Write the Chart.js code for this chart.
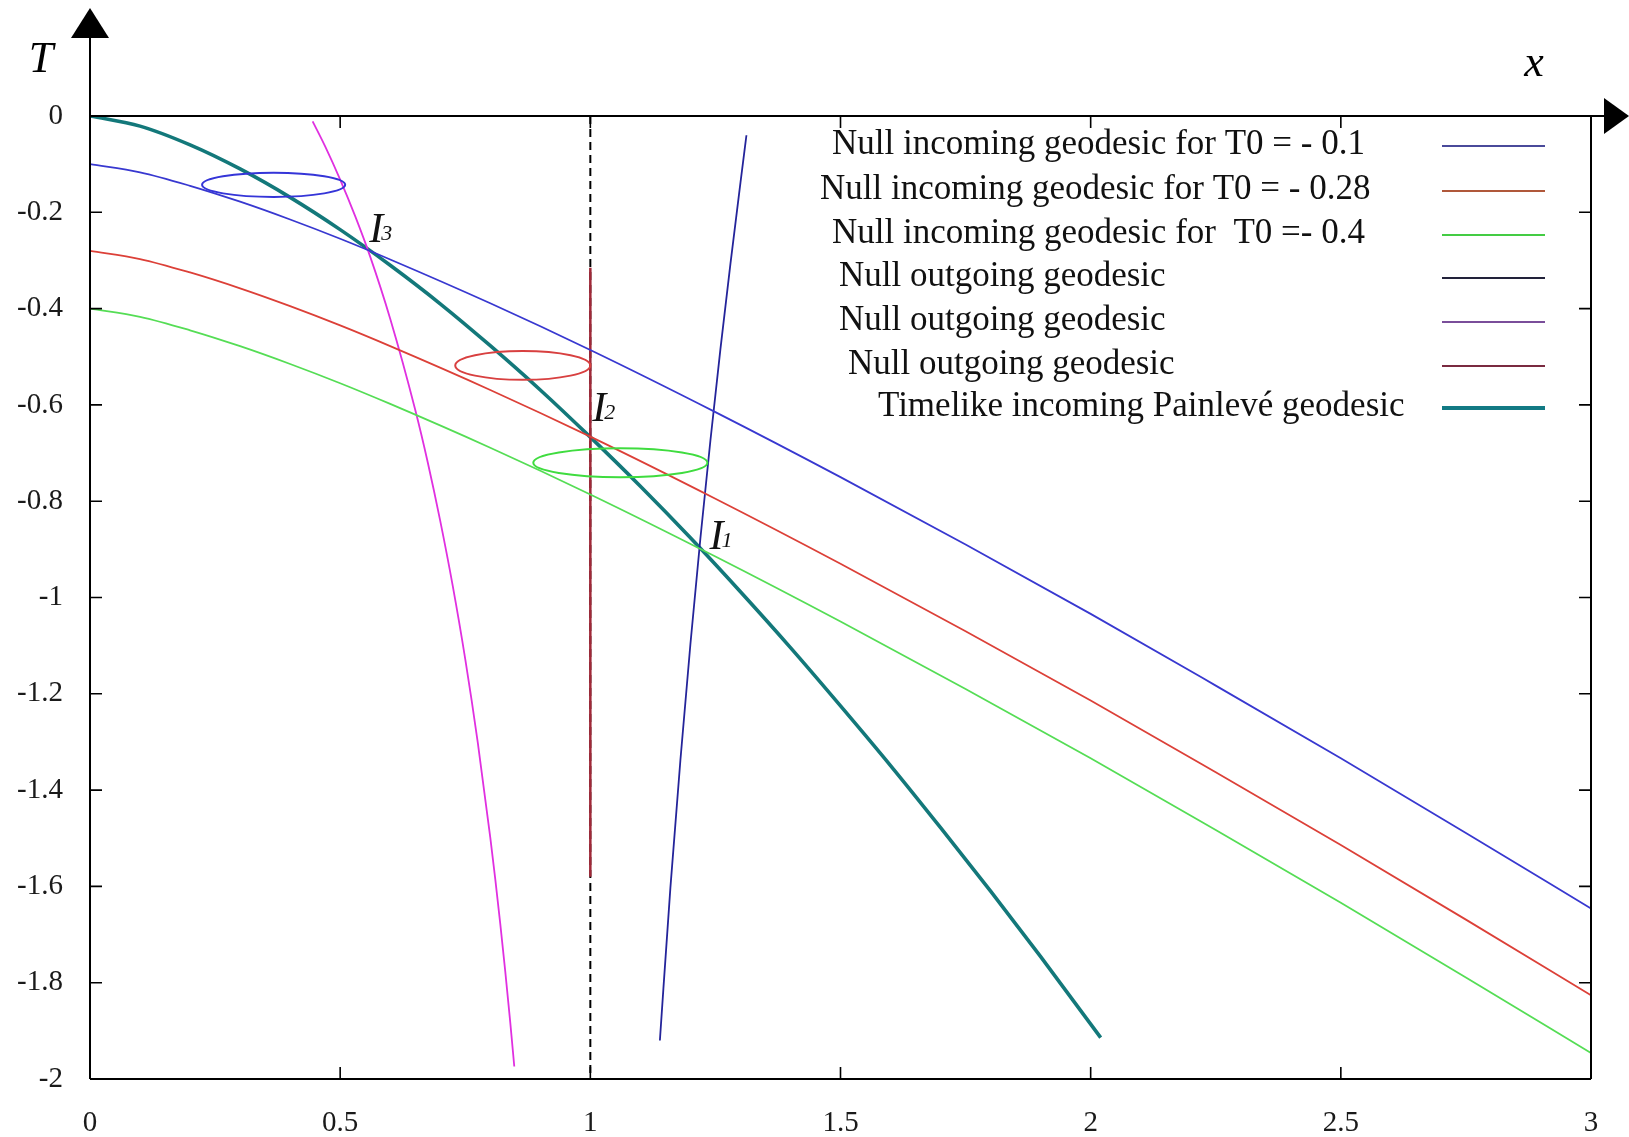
<!DOCTYPE html>
<html>
<head>
<meta charset="utf-8">
<script src="https://cdn.jsdelivr.net/npm/chart.js@4.4.1/dist/chart.umd.min.js"></script>
<style>
  html, body { margin: 0; padding: 0; background: #fff; }
  canvas { display: block; }
</style>
</head>
<body>
<canvas id="geodesics" width="1629" height="1137"></canvas>
<script>
// Painlevé coordinates: null / timelike geodesics near the horizon x = 1

const xTicks = [0, 0.5, 1, 1.5, 2, 2.5, 3];
const yTicks = [0, -0.2, -0.4, -0.6, -0.8, -1, -1.2, -1.4, -1.6, -1.8, -2];

// incoming null geodesics (same x grid for all three)
const incomingX = [0, 0.1, 0.2, 0.3, 0.4, 0.5, 0.6, 0.8, 1.0, 1.25, 1.5, 1.75, 2.0, 2.25, 2.5, 2.75, 3.0];
const incomingT01 = [-0.100, -0.117, -0.145, -0.178, -0.215, -0.255, -0.298, -0.389, -0.486, -0.615, -0.750, -0.890, -1.034, -1.183, -1.334, -1.489, -1.646];
const incomingT028 = [-0.280, -0.297, -0.325, -0.358, -0.395, -0.435, -0.478, -0.569, -0.666, -0.795, -0.930, -1.070, -1.214, -1.363, -1.514, -1.669, -1.826];
const incomingT04 = [-0.400, -0.417, -0.445, -0.478, -0.515, -0.555, -0.598, -0.689, -0.786, -0.915, -1.050, -1.190, -1.334, -1.483, -1.634, -1.789, -1.946];

// outgoing null geodesics
const outgoingOuterX = [1.139, 1.16, 1.18, 1.20, 1.22, 1.24, 1.26, 1.28, 1.30, 1.312];
const outgoingOuterT = [-1.92, -1.603, -1.338, -1.097, -0.877, -0.674, -0.484, -0.307, -0.139, -0.04];
const outgoingInnerX = [0.445, 0.47, 0.5, 0.53, 0.56, 0.6, 0.65, 0.675, 0.7, 0.725, 0.75, 0.775, 0.8, 0.81, 0.82, 0.83, 0.84, 0.848];
const outgoingInnerT = [-0.011, -0.063, -0.132, -0.208, -0.292, -0.421, -0.610, -0.719, -0.841, -0.976, -1.128, -1.301, -1.498, -1.585, -1.678, -1.777, -1.883, -1.974];
const horizonX = [1, 1];
const horizonT = [-0.315, -1.58];
const horizonDashT = [0, -2];

// timelike incoming Painlevé geodesic
const timelikeX = [0, 0.1, 0.2, 0.3, 0.4, 0.5, 0.6, 0.7, 0.8, 0.9, 1.0, 1.1, 1.2, 1.3, 1.4, 1.5, 1.6, 1.7, 1.8, 1.9, 2.0, 2.02];
const timelikeT = [0, -0.021, -0.060, -0.110, -0.169, -0.236, -0.310, -0.390, -0.477, -0.569, -0.667, -0.769, -0.876, -0.988, -1.104, -1.225, -1.349, -1.478, -1.610, -1.746, -1.886, -1.914];

// light cones
const coneX = [0.367, 0.865, 1.06];
const coneT = [-0.143, -0.518, -0.72];
const coneHalfWidth = [0.143, 0.135, 0.174];
const coneHalfHeight = [0.025, 0.03, 0.03];
const coneColors = ['#3535d8', '#d84040', '#3fdc3f'];

// intersection labels
const markNames = ['I', 'I', 'I'];
const markSubs = ['1', '2', '3'];
const markX = [1.238, 1.004, 0.558];
const markT = [-0.899, -0.633, -0.262];

const seriesLabels = [
  'Null incoming geodesic for T0 = - 0.1',
  'Null incoming geodesic for T0 = - 0.28',
  'Null incoming geodesic for  T0 =- 0.4',
  'Null outgoing geodesic',
  'Null outgoing geodesic',
  'Null outgoing geodesic',
  'Timelike incoming Painlevé geodesic',
];

const SERIF = "'Liberation Serif', 'DejaVu Serif', serif";

function pts(xs, ts) {
  return xs.map((x, i) => ({ x, y: ts[i] }));
}

const datasets = [
  { label: seriesLabels[0], data: pts(incomingX, incomingT01), borderColor: '#3838d0', borderWidth: 1.8, cubicInterpolationMode: 'monotone' },
  { label: seriesLabels[1], data: pts(incomingX, incomingT028), borderColor: '#dc4038', borderWidth: 1.8, cubicInterpolationMode: 'monotone' },
  { label: seriesLabels[2], data: pts(incomingX, incomingT04), borderColor: '#55dd55', borderWidth: 1.8, cubicInterpolationMode: 'monotone' },
  { label: seriesLabels[3], data: pts(outgoingOuterX, outgoingOuterT), borderColor: '#24249a', borderWidth: 1.8, cubicInterpolationMode: 'monotone' },
  { label: seriesLabels[4], data: pts(outgoingInnerX, outgoingInnerT), borderColor: '#e030e0', borderWidth: 1.8, cubicInterpolationMode: 'monotone' },
  { label: seriesLabels[5], data: pts(horizonX, horizonT), borderColor: '#a02838', borderWidth: 2.5 },
  { label: seriesLabels[6], data: pts(timelikeX, timelikeT), borderColor: '#13787a', borderWidth: 3.6, cubicInterpolationMode: 'monotone' },
  { label: '', data: pts(horizonX, horizonDashT), borderColor: '#000', borderWidth: 2, borderDash: [8, 5], noLegend: true },
];

const legendColors = ['#4a4a9a', '#b0583a', '#44cc44', '#22223a', '#7a4e9a', '#7a2a40', '#127a84'];
const legendTextX = [832, 820, 832, 839, 839, 848, 878];

const framePlugin = {
  id: 'frame',
  afterDraw(chart) {
    const { ctx, chartArea: a, scales } = chart;
    ctx.save();
    ctx.strokeStyle = '#000';
    ctx.fillStyle = '#000';
    ctx.lineWidth = 2;
    // box + axis extensions
    ctx.beginPath();
    ctx.moveTo(a.left, a.bottom); ctx.lineTo(a.right, a.bottom);
    ctx.moveTo(a.right, a.bottom); ctx.lineTo(a.right, a.top);
    ctx.moveTo(a.left, a.bottom); ctx.lineTo(a.left, a.top - 80);
    ctx.moveTo(a.left, a.top); ctx.lineTo(a.right + 14, a.top);
    ctx.stroke();
    // arrows
    ctx.beginPath();
    ctx.moveTo(a.left, a.top - 108);
    ctx.lineTo(a.left - 19, a.top - 78);
    ctx.lineTo(a.left + 19, a.top - 78);
    ctx.closePath(); ctx.fill();
    ctx.beginPath();
    ctx.moveTo(a.right + 38, a.top);
    ctx.lineTo(a.right + 13, a.top - 18);
    ctx.lineTo(a.right + 13, a.top + 18);
    ctx.closePath(); ctx.fill();
    // inward ticks
    ctx.lineWidth = 1.6;
    ctx.beginPath();
    xTicks.forEach(v => {
      const px = scales.x.getPixelForValue(v);
      ctx.moveTo(px, a.bottom); ctx.lineTo(px, a.bottom - 12);
      ctx.moveTo(px, a.top); ctx.lineTo(px, a.top + 12);
    });
    yTicks.forEach(v => {
      const py = scales.y.getPixelForValue(v);
      ctx.moveTo(a.left, py); ctx.lineTo(a.left + 12, py);
      ctx.moveTo(a.right, py); ctx.lineTo(a.right - 12, py);
    });
    ctx.stroke();
    // axis names
    ctx.font = 'italic 44px ' + SERIF;
    ctx.textAlign = 'center';
    ctx.textBaseline = 'alphabetic';
    ctx.fillText('T', 41, 72);
    ctx.fillText('x', 1534, 76);
    ctx.restore();
  }
};

const conePlugin = {
  id: 'cones',
  afterDatasetsDraw(chart) {
    const { ctx, scales } = chart;
    ctx.save();
    ctx.lineWidth = 2;
    coneX.forEach((cx, i) => {
      const px = scales.x.getPixelForValue(cx);
      const py = scales.y.getPixelForValue(coneT[i]);
      const rx = scales.x.getPixelForValue(cx + coneHalfWidth[i]) - px;
      const ry = scales.y.getPixelForValue(coneT[i] - coneHalfHeight[i]) - py;
      ctx.strokeStyle = coneColors[i];
      ctx.beginPath();
      ctx.ellipse(px, py, rx, ry, 0, 0, Math.PI * 2);
      ctx.stroke();
    });
    // intersection labels
    ctx.fillStyle = '#111';
    ctx.textBaseline = 'alphabetic';
    ctx.textAlign = 'left';
    markX.forEach((mx, i) => {
      const px = scales.x.getPixelForValue(mx);
      const py = scales.y.getPixelForValue(markT[i]);
      ctx.font = 'italic 42px ' + SERIF;
      ctx.fillText(markNames[i], px, py);
      const w = ctx.measureText(markNames[i]).width;
      ctx.font = 'italic 22px ' + SERIF;
      ctx.fillText(markSubs[i], px + w - 2, py - 2);
    });
    ctx.restore();
  }
};

const keyPlugin = {
  id: 'key',
  afterDraw(chart) {
    const { ctx } = chart;
    const rowY = [145, 190, 234, 277, 321, 365, 407];
    ctx.save();
    ctx.font = '35px ' + SERIF;
    ctx.fillStyle = '#111';
    ctx.textBaseline = 'middle';
    ctx.textAlign = 'left';
    chart.data.datasets.filter(d => !d.noLegend).forEach((d, i) => {
      ctx.fillText(d.label, legendTextX[i], rowY[i]);
      ctx.strokeStyle = legendColors[i];
      ctx.lineWidth = i === 6 ? 4 : 2;
      ctx.beginPath();
      ctx.moveTo(1442, rowY[i] + 1);
      ctx.lineTo(1545, rowY[i] + 1);
      ctx.stroke();
    });
    ctx.restore();
  }
};

const fmt = v => String(+Number(v).toFixed(1));

new Chart(document.getElementById('geodesics'), {
  type: 'line',
  data: { datasets },
  options: {
    responsive: false,
    animation: false,
    layout: { padding: { top: 116, right: 38, left: 0, bottom: 0 } },
    elements: { point: { radius: 0 }, line: { fill: false } },
    plugins: { legend: { display: false }, tooltip: { enabled: false } },
    scales: {
      x: {
        type: 'linear', min: 0, max: 3,
        afterFit: s => { s.height = 58; },
        afterBuildTicks: s => { s.ticks = xTicks.map(v => ({ value: v })); },
        grid: { display: false }, border: { display: false },
        ticks: { padding: 19, maxRotation: 0, autoSkip: false, color: '#1a1a1a',
          font: { family: SERIF, size: 29 }, callback: v => fmt(v) },
      },
      y: {
        type: 'linear', min: -2, max: 0,
        afterFit: s => { s.width = 90; },
        afterBuildTicks: s => { s.ticks = yTicks.map(v => ({ value: v })); },
        grid: { display: false }, border: { display: false },
        ticks: { padding: 19, autoSkip: false, color: '#1a1a1a',
          font: { family: SERIF, size: 29 }, callback: v => fmt(v) },
      },
    },
  },
  plugins: [conePlugin, framePlugin, keyPlugin],
});
</script>
</body>
</html>
